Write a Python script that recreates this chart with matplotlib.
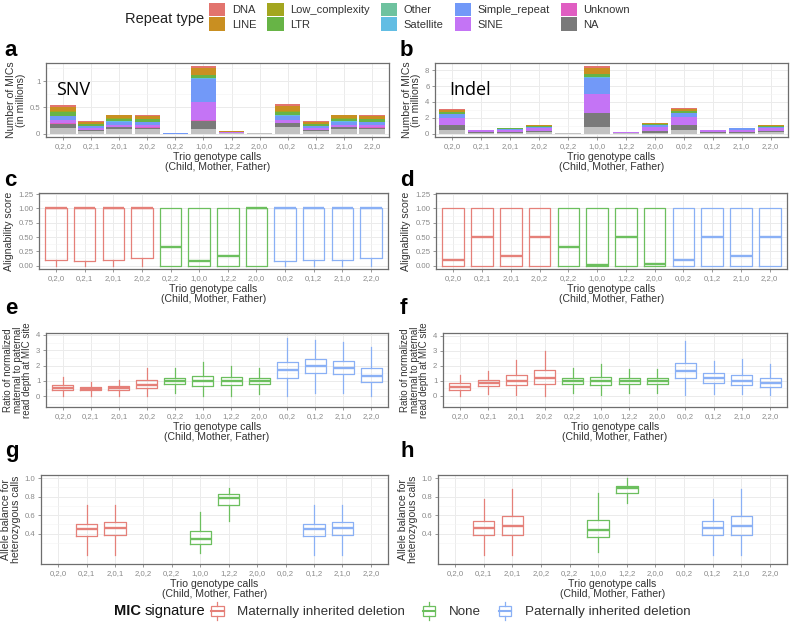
import matplotlib
matplotlib.use('Agg')
import matplotlib.pyplot as plt
from matplotlib.patches import Patch, Rectangle
from matplotlib.lines import Line2D
from matplotlib.legend_handler import HandlerBase
from matplotlib.ticker import FixedLocator

plt.rcParams['font.family'] = ['Liberation Sans', 'DejaVu Sans']

cats = ['0,2,0', '0,2,1', '2,0,1', '2,0,2', '0,2,2', '1,0,0',
        '1,2,2', '2,0,0', '0,0,2', '0,1,2', '2,1,0', '2,2,0']
sig = ['Maternally inherited deletion'] * 4 + ['None'] * 4 + ['Paternally inherited deletion'] * 4
sig_labels = ['Maternally inherited deletion', 'None', 'Paternally inherited deletion']
sig_colors = {'Maternally inherited deletion': '#E58079',
              'None': '#6CBF5E',
              'Paternally inherited deletion': '#8AB0F5'}

# repeat types, bottom of the stack first (light grey base has no legend entry)
repeat_types = ['base', 'NA', 'Unknown', 'SINE', 'Simple_repeat', 'Satellite',
                'Other', 'LTR', 'Low_complexity', 'LINE', 'DNA']
repeat_colors = {'base': '#C2C2C2', 'NA': '#7A7A7A', 'Unknown': '#E05EC2',
                 'SINE': '#C474F5', 'Simple_repeat': '#7299F8', 'Satellite': '#62BDE3',
                 'Other': '#6EC29F', 'LTR': '#67B446', 'Low_complexity': '#A3A61F',
                 'LINE': '#C98F21', 'DNA': '#E2746E'}
legend_order = ['DNA', 'LINE', 'Low_complexity', 'LTR', 'Other', 'Satellite',
                'Simple_repeat', 'SINE', 'Unknown', 'NA']

# number of MICs (millions), SNV
snv_counts = {
    'base':           [0.11, 0.05, 0.08, 0.08, 0, 0.09, 0.01, 0.005, 0.12, 0.05, 0.08, 0.08],
    'NA':             [0.08, 0.02, 0.04, 0.035, 0, 0.16, 0.005, 0, 0.08, 0.02, 0.04, 0.035],
    'Unknown':        [0.005, 0.003, 0.004, 0.004, 0, 0.01, 0, 0, 0.005, 0.003, 0.004, 0.004],
    'SINE':           [0.06, 0.035, 0.045, 0.045, 0, 0.35, 0.015, 0.003, 0.06, 0.035, 0.045, 0.045],
    'Simple_repeat':  [0.08, 0.04, 0.06, 0.055, 0.002, 0.44, 0.008, 0.01, 0.08, 0.04, 0.06, 0.055],
    'Satellite':      [0.005, 0.002, 0.003, 0.003, 0, 0.01, 0, 0.002, 0.005, 0.002, 0.003, 0.003],
    'Other':          [0.003, 0.002, 0.003, 0.003, 0, 0.005, 0, 0, 0.003, 0.002, 0.003, 0.003],
    'LTR':            [0.065, 0.03, 0.05, 0.045, 0, 0.05, 0.001, 0, 0.065, 0.03, 0.05, 0.045],
    'Low_complexity': [0.02, 0.01, 0.015, 0.015, 0, 0.012, 0, 0, 0.02, 0.01, 0.015, 0.015],
    'LINE':           [0.09, 0.03, 0.05, 0.05, 0, 0.13, 0.002, 0, 0.095, 0.03, 0.05, 0.05],
    'DNA':            [0.025, 0.01, 0.012, 0.012, 0, 0.03, 0.001, 0, 0.025, 0.01, 0.012, 0.012],
}
# number of MICs (millions), Indel
indel_counts = {
    'base':           [0.42, 0.1, 0.1, 0.15, 0.02, 0.84, 0.03, 0.12, 0.45, 0.1, 0.1, 0.15],
    'NA':             [0.63, 0.05, 0.07, 0.15, 0, 1.76, 0.01, 0.18, 0.65, 0.05, 0.08, 0.15],
    'Unknown':        [0.02, 0.005, 0.005, 0.01, 0, 0.05, 0, 0.01, 0.02, 0.005, 0.005, 0.01],
    'SINE':           [0.95, 0.25, 0.3, 0.35, 0.01, 2.32, 0.12, 0.5, 1.0, 0.25, 0.32, 0.35],
    'Simple_repeat':  [0.45, 0.05, 0.15, 0.2, 0.07, 2.1, 0.04, 0.25, 0.45, 0.05, 0.15, 0.2],
    'Satellite':      [0.02, 0, 0.005, 0.005, 0, 0.05, 0, 0.01, 0.02, 0, 0.005, 0.005],
    'Other':          [0.01, 0, 0.005, 0.005, 0, 0.03, 0, 0.005, 0.01, 0, 0.005, 0.005],
    'LTR':            [0.2, 0.02, 0.04, 0.08, 0, 0.33, 0, 0.1, 0.22, 0.02, 0.04, 0.08],
    'Low_complexity': [0.05, 0.005, 0.01, 0.02, 0, 0.1, 0, 0.03, 0.05, 0.005, 0.01, 0.02],
    'LINE':           [0.28, 0.02, 0.04, 0.07, 0, 0.75, 0, 0.08, 0.3, 0.02, 0.04, 0.07],
    'DNA':            [0.07, 0.01, 0.02, 0.03, 0, 0.17, 0, 0.04, 0.08, 0.01, 0.02, 0.03],
}

# box stats: (whisker low, q1, median, q3, whisker high)
align_snv = [(0, 0.10, 1, 1, 1), (0, 0.08, 1, 1, 1), (0, 0.10, 1, 1, 1), (0, 0.125, 1, 1, 1),
             (0, 0, 0.333, 1, 1), (0, 0, 0.08, 1, 1), (0, 0, 0.167, 1, 1), (0, 0, 1, 1, 1),
             (0, 0.08, 1, 1, 1), (0, 0.10, 1, 1, 1), (0, 0.10, 1, 1, 1), (0, 0.125, 1, 1, 1)]
align_indel = [(0, 0, 0.1, 1, 1), (0, 0, 0.5, 1, 1), (0, 0, 0.167, 1, 1), (0, 0, 0.5, 1, 1),
               (0, 0, 0.333, 1, 1), (0, 0, 0.01, 1, 1), (0, 0, 0.5, 1, 1), (0, 0, 0.03, 1, 1),
               (0, 0, 0.1, 1, 1), (0, 0, 0.5, 1, 1), (0, 0, 0.167, 1, 1), (0, 0, 0.5, 1, 1)]
ratio_snv = [(0, 0.41, 0.57, 0.74, 1.26), (0, 0.41, 0.5, 0.63, 0.96), (0, 0.41, 0.52, 0.65, 1.04),
             (0, 0.52, 0.72, 1.07, 1.83), (0.24, 0.8, 1.02, 1.22, 1.83), (0, 0.7, 1.0, 1.33, 2.26),
             (0.05, 0.76, 1.0, 1.26, 1.96), (0.15, 0.78, 1.0, 1.22, 1.83), (0, 1.22, 1.74, 2.26, 3.83),
             (0.22, 1.52, 1.96, 2.41, 3.65), (0.2, 1.43, 1.87, 2.3, 3.57), (0, 0.93, 1.3, 1.83, 3.22)]
ratio_indel = [(0, 0.41, 0.61, 0.83, 1.4), (0.1, 0.66, 0.87, 1.07, 1.66), (0.05, 0.7, 1.0, 1.38, 2.38),
               (0, 0.81, 1.2, 1.7, 3.0), (0.2, 0.79, 1.0, 1.2, 1.84), (0.05, 0.72, 1.0, 1.27, 2.14),
               (0.2, 0.79, 1.0, 1.2, 1.8), (0.2, 0.79, 1.0, 1.2, 1.75), (0.05, 1.18, 1.62, 2.16, 3.65),
               (0.15, 0.87, 1.18, 1.49, 2.32), (0.1, 0.7, 1.0, 1.38, 2.43), (0.05, 0.57, 0.85, 1.18, 2.1)]
balance_snv = [None, (0.17, 0.375, 0.447, 0.509, 0.713), (0.17, 0.385, 0.455, 0.52, 0.713), None,
               None, (0.19, 0.284, 0.338, 0.43, 0.633), (0.54, 0.713, 0.785, 0.83, 0.895), None,
               None, (0.17, 0.375, 0.447, 0.509, 0.713), (0.17, 0.385, 0.455, 0.52, 0.713), None]
balance_indel = [None, (0.17, 0.381, 0.457, 0.536, 0.777), (0.17, 0.389, 0.478, 0.59, 0.885), None,
                 None, (0.2, 0.363, 0.442, 0.55, 0.838), (0.73, 0.842, 0.892, 0.92, 1.0), None,
                 None, (0.17, 0.381, 0.457, 0.536, 0.777), (0.17, 0.389, 0.478, 0.59, 0.885), None]

W, H = 793, 625
fig = plt.figure(figsize=(W / 100, H / 100), dpi=100)


def add_ax(x0, y0, x1, y1):
    return fig.add_axes([x0 / W, 1 - y1 / H, (x1 - x0) / W, (y1 - y0) / H])


def frame(ax, ylim, yticks, ylabels, minor, ylabel, ylabel_size=7.6):
    ax.set_xlim(-0.6, 11.6)
    ax.set_ylim(*ylim)
    ax.set_xticks(range(12))
    ax.set_xticklabels(cats)
    ax.set_yticks(yticks)
    ax.set_yticklabels(ylabels)
    ax.yaxis.set_minor_locator(FixedLocator(minor))
    ax.grid(True, which='major', color='#EBEBEB', lw=0.7)
    ax.grid(True, which='minor', axis='y', color='#F3F3F3', lw=0.4)
    ax.set_axisbelow(True)
    for s in ax.spines.values():
        s.set_color('#6E6E6E')
        s.set_linewidth(0.9)
    ax.tick_params(which='major', length=2, width=0.5, color='#6E6E6E',
                   labelcolor='#8A8A8A', labelsize=5.6, pad=2)
    ax.tick_params(which='minor', length=0)
    ax.set_xlabel('Trio genotype calls\n(Child, Mother, Father)', fontsize=7.6,
                  color='#333333', labelpad=2, linespacing=1.0)
    ax.set_ylabel(ylabel, fontsize=ylabel_size, color='#333333', labelpad=3,
                  linespacing=0.92)


def stack(ax, counts):
    bottom = [0.0] * 12
    for rt in repeat_types:
        ax.bar(range(12), counts[rt], width=0.9, bottom=bottom,
               color=repeat_colors[rt], edgecolor='none')
        bottom = [b + v for b, v in zip(bottom, counts[rt])]


def boxes(ax, stats):
    for i, s in enumerate(stats):
        if s is None:
            continue
        lo, q1, med, q3, hi = s
        col = sig_colors[sig[i]]
        ax.bxp([dict(whislo=lo, q1=q1, med=med, q3=q3, whishi=hi)], positions=[i],
               widths=0.75, showfliers=False, showcaps=False, manage_ticks=False,
               boxprops=dict(color=col, lw=0.9),
               whiskerprops=dict(color=col, lw=0.9),
               medianprops=dict(color=col, lw=1.7))


# a / b
ax_a = add_ax(46, 63, 389, 137)
stack(ax_a, snv_counts)
frame(ax_a, (-0.065, 1.35), [0, 0.5, 1], ['0', '0.5', '1'], [0.25, 0.75, 1.25],
      'Number of MICs\n(in millions)')
ax_a.text(0.03, 0.64, 'SNV', transform=ax_a.transAxes, fontsize=13,
          family='Open Sans', va='center')

ax_b = add_ax(435, 63, 788, 137)
stack(ax_b, indel_counts)
frame(ax_b, (-0.425, 8.93), [0, 2, 4, 6, 8], ['0', '2', '4', '6', '8'], [1, 3, 5, 7],
      'Number of MICs\n(in millions)')
ax_b.text(0.04, 0.64, 'Indel', transform=ax_b.transAxes, fontsize=13,
          family='Open Sans', va='center')

# c / d
al_ticks = [0, 0.25, 0.5, 0.75, 1.0, 1.25]
al_labels = ['0.00', '0.25', '0.50', '0.75', '1.00', '1.25']
ax_c = add_ax(39, 193, 388, 269)
boxes(ax_c, align_snv)
frame(ax_c, (-0.06, 1.27), al_ticks, al_labels, [0.125, 0.375, 0.625, 0.875, 1.125],
      'Alignability score')
ax_d = add_ax(436, 193, 787, 269)
boxes(ax_d, align_indel)
frame(ax_d, (-0.06, 1.27), al_ticks, al_labels, [0.125, 0.375, 0.625, 0.875, 1.125],
      'Alignability score')

# e / f
ratio_label = 'Ratio of normalized\nmaternal to paternal\nread depth at MIC site'
ax_e = add_ax(46, 333, 388, 407)
boxes(ax_e, ratio_snv)
frame(ax_e, (-0.7, 4.13), [0, 1, 2, 3, 4], ['0', '1', '2', '3', '4'],
      [-0.5, 0.5, 1.5, 2.5, 3.5], ratio_label, ylabel_size=7.0)
ax_f = add_ax(443, 333, 787, 407)
boxes(ax_f, ratio_indel)
frame(ax_f, (-0.74, 4.17), [0, 1, 2, 3, 4], ['0', '1', '2', '3', '4'],
      [-0.5, 0.5, 1.5, 2.5, 3.5], ratio_label, ylabel_size=7.0)

# g / h
bal_label = 'Allele balance for\nheterozygous calls'
ax_g = add_ax(41, 475, 388, 564)
boxes(ax_g, balance_snv)
frame(ax_g, (0.07, 1.035), [0.4, 0.6, 0.8, 1.0], ['0.4', '0.6', '0.8', '1.0'],
      [0.3, 0.5, 0.7, 0.9], bal_label)
ax_h = add_ax(438, 475, 787, 564)
boxes(ax_h, balance_indel)
frame(ax_h, (0.07, 1.035), [0.4, 0.6, 0.8, 1.0], ['0.4', '0.6', '0.8', '1.0'],
      [0.3, 0.5, 0.7, 0.9], bal_label)

# panel letters
for letter, x, y in [('a', 4, 56), ('b', 400, 56), ('c', 4, 186), ('d', 400, 186),
                     ('e', 5, 314), ('f', 400, 314), ('g', 5, 457), ('h', 400, 457)]:
    fig.text(x / W, 1 - y / H, letter, fontsize=16, fontweight='bold', va='baseline')

# top legend
fig.text(125 / W, 1 - 19 / H, 'Repeat type', fontsize=10.5, color='#222222', va='center')
rt_handles = [Patch(facecolor=repeat_colors[r], edgecolor='none') for r in legend_order]
fig.legend(rt_handles, legend_order, ncol=5, loc='upper left',
           bbox_to_anchor=(209 / W, 1 - 3 / H), frameon=False, fontsize=8,
           handlelength=1.45, handleheight=1.45, handletextpad=0.6,
           columnspacing=1.0, labelspacing=0.1, borderpad=0, borderaxespad=0,
           labelcolor='#333333')


class BoxHandler(HandlerBase):
    def create_artists(self, legend, orig_handle, xdescent, ydescent, width, height,
                       fontsize, trans):
        col = orig_handle.get_edgecolor()
        x0, y0 = -xdescent, -ydescent
        cx = x0 + width / 2
        box = Rectangle((x0 + 0.1 * width, y0 + 0.22 * height), 0.8 * width, 0.56 * height,
                        facecolor='white', edgecolor=col, lw=0.9, transform=trans)
        med = Line2D([x0 + 0.1 * width, x0 + 0.9 * width], [y0 + 0.5 * height] * 2,
                     color=col, lw=1.5, transform=trans)
        w1 = Line2D([cx, cx], [y0 - 0.05 * height, y0 + 0.22 * height], color=col, lw=0.9,
                    transform=trans)
        w2 = Line2D([cx, cx], [y0 + 0.78 * height, y0 + 1.05 * height], color=col, lw=0.9,
                    transform=trans)
        return [box, med, w1, w2]


# bottom legend: bold "MIC" followed by plain "signature"
y_leg = 1 - 611 / H
t_mic = fig.text(114 / W, y_leg, 'MIC', fontsize=10.5, fontweight='bold',
                 color='#111111', va='center')
renderer = fig.canvas.get_renderer()
bb = t_mic.get_window_extent(renderer)
t_sig = fig.text((bb.x1 + 3.5) / W, y_leg, 'signature', fontsize=10.5,
                 color='#111111', va='center')
bb2 = t_sig.get_window_extent(renderer)
sig_handles = [Patch(facecolor='white', edgecolor=sig_colors[s]) for s in sig_labels]
fig.legend(sig_handles, sig_labels, ncol=3, loc='center left',
           bbox_to_anchor=((bb2.x1 + 4) / W, y_leg), frameon=False, fontsize=9.6,
           handlelength=1.2, handleheight=1.5, handletextpad=0.9, columnspacing=1.2,
           borderpad=0, borderaxespad=0, labelcolor='#333333',
           handler_map={Patch: BoxHandler()})

fig.savefig('out.png', dpi=100)
